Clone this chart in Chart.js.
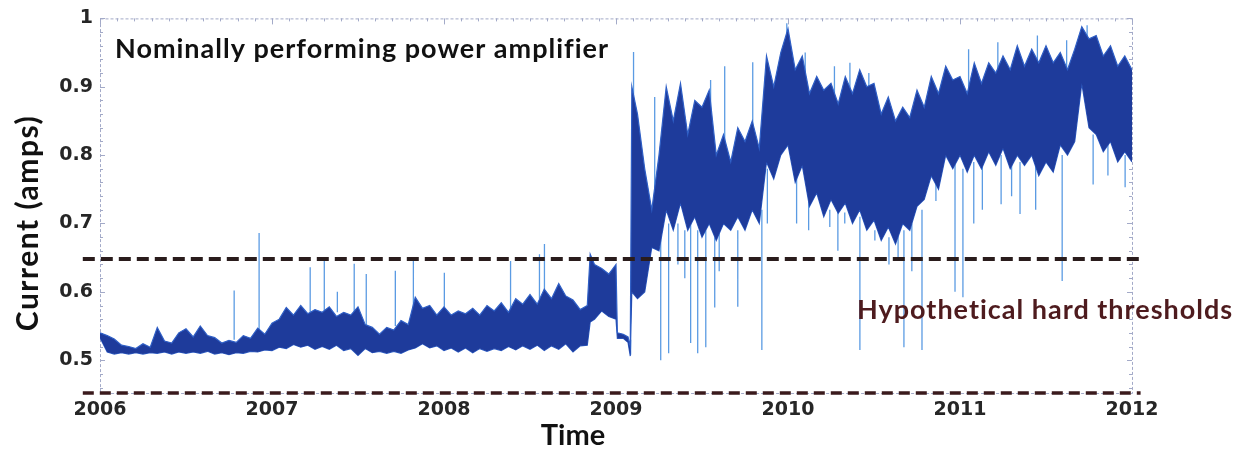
<!DOCTYPE html>
<html>
<head>
<meta charset="utf-8">
<script src="https://cdn.jsdelivr.net/npm/chart.js@4.4.1/dist/chart.umd.min.js"></script>
<style>
    html, body { margin: 0; padding: 0; background: #fff; }
    #wrap { width: 1241px; height: 450px; }
</style>
</head>
<body>
<div id="wrap"><canvas id="main-chart"></canvas></div>
<script>
// Time of each band sample (decimal years)
const binYears = [
    2006.000, 2006.042, 2006.083, 2006.125, 2006.167, 2006.208, 2006.250, 2006.292, 2006.333, 2006.375, 2006.417, 2006.458,
    2006.500, 2006.542, 2006.583, 2006.625, 2006.667, 2006.708, 2006.750, 2006.792, 2006.833, 2006.875, 2006.917, 2006.958,
    2007.000, 2007.042, 2007.083, 2007.125, 2007.167, 2007.208, 2007.250, 2007.292, 2007.333, 2007.375, 2007.417, 2007.458,
    2007.500, 2007.542, 2007.583, 2007.625, 2007.667, 2007.708, 2007.750, 2007.792, 2007.833, 2007.875, 2007.917, 2007.958,
    2008.000, 2008.042, 2008.083, 2008.125, 2008.167, 2008.208, 2008.250, 2008.292, 2008.333, 2008.375, 2008.417, 2008.458,
    2008.500, 2008.542, 2008.583, 2008.625, 2008.667, 2008.708, 2008.750, 2008.792, 2008.833, 2008.850, 2008.875, 2008.917, 2008.958,
    2009.000, 2009.008, 2009.042, 2009.070, 2009.083, 2009.092, 2009.125, 2009.167, 2009.208, 2009.250, 2009.292, 2009.333,
    2009.375, 2009.417, 2009.458, 2009.500, 2009.542, 2009.583, 2009.625, 2009.667, 2009.708, 2009.750, 2009.792, 2009.833,
    2009.875, 2009.917, 2009.958,
    2010.000, 2010.042, 2010.083, 2010.125, 2010.167, 2010.208, 2010.250, 2010.292, 2010.333, 2010.375, 2010.417, 2010.458,
    2010.500, 2010.542, 2010.583, 2010.625, 2010.667, 2010.708, 2010.750, 2010.792, 2010.833, 2010.875, 2010.917, 2010.958,
    2011.000, 2011.042, 2011.083, 2011.125, 2011.167, 2011.208, 2011.250, 2011.292, 2011.333, 2011.375, 2011.417, 2011.458,
    2011.500, 2011.542, 2011.583, 2011.625, 2011.667, 2011.708, 2011.750, 2011.792, 2011.833, 2011.875, 2011.917, 2011.958,
    2012.000
];

// Upper edge of the dense current trace (amps)
const bandHigh = [
    0.540, 0.536, 0.531, 0.522, 0.520, 0.517, 0.524, 0.519, 0.548, 0.528, 0.525, 0.540,
    0.546, 0.534, 0.550, 0.536, 0.533, 0.525, 0.529, 0.526, 0.536, 0.532, 0.547, 0.538,
    0.554, 0.560, 0.577, 0.566, 0.580, 0.568, 0.574, 0.570, 0.578, 0.564, 0.570, 0.566,
    0.578, 0.552, 0.548, 0.538, 0.548, 0.544, 0.558, 0.552, 0.592, 0.576, 0.580, 0.566,
    0.578, 0.566, 0.572, 0.568, 0.576, 0.566, 0.580, 0.572, 0.584, 0.570, 0.590, 0.582,
    0.596, 0.582, 0.604, 0.590, 0.612, 0.594, 0.588, 0.574, 0.580, 0.655, 0.640, 0.634, 0.626,
    0.640, 0.540, 0.538, 0.534, 0.520, 0.900, 0.860, 0.780, 0.720, 0.800, 0.900, 0.850,
    0.905, 0.830, 0.880, 0.870, 0.895, 0.800, 0.830, 0.790, 0.840, 0.820, 0.850, 0.810,
    0.945, 0.900, 0.950,
    0.985, 0.925, 0.945, 0.890, 0.915, 0.895, 0.905, 0.875, 0.915, 0.890, 0.925, 0.900,
    0.905, 0.860, 0.885, 0.850, 0.870, 0.855, 0.895, 0.870, 0.915, 0.890, 0.930, 0.910,
    0.915, 0.890, 0.935, 0.905, 0.935, 0.920, 0.945, 0.925, 0.960, 0.930, 0.955, 0.935,
    0.960, 0.935, 0.950, 0.925, 0.955, 0.988, 0.970, 0.975, 0.945, 0.960, 0.930, 0.945,
    0.925
];

// Lower edge of the dense current trace (amps)
const bandLow = [
    0.533, 0.512, 0.509, 0.511, 0.509, 0.511, 0.509, 0.511, 0.510, 0.512, 0.509, 0.512,
    0.510, 0.512, 0.510, 0.513, 0.509, 0.511, 0.508, 0.511, 0.510, 0.513, 0.512, 0.515,
    0.514, 0.519, 0.517, 0.523, 0.519, 0.522, 0.516, 0.520, 0.516, 0.522, 0.514, 0.517,
    0.507, 0.517, 0.511, 0.513, 0.510, 0.513, 0.510, 0.515, 0.518, 0.524, 0.518, 0.521,
    0.514, 0.518, 0.512, 0.518, 0.511, 0.517, 0.513, 0.517, 0.514, 0.520, 0.515, 0.521,
    0.516, 0.522, 0.514, 0.521, 0.516, 0.524, 0.512, 0.521, 0.522, 0.556, 0.560, 0.572, 0.564,
    0.560, 0.532, 0.532, 0.526, 0.506, 0.600, 0.590, 0.600, 0.665, 0.660, 0.720, 0.690,
    0.730, 0.690, 0.710, 0.680, 0.700, 0.675, 0.700, 0.690, 0.710, 0.690, 0.720, 0.700,
    0.790, 0.765, 0.800,
    0.815, 0.760, 0.785, 0.725, 0.745, 0.710, 0.735, 0.715, 0.730, 0.700, 0.720, 0.690,
    0.705, 0.675, 0.695, 0.670, 0.700, 0.690, 0.725, 0.735, 0.770, 0.750, 0.800, 0.780,
    0.800, 0.775, 0.800, 0.780, 0.805, 0.785, 0.810, 0.780, 0.800, 0.785, 0.800, 0.770,
    0.790, 0.775, 0.815, 0.800, 0.820, 0.905, 0.840, 0.830, 0.805, 0.820, 0.790, 0.805,
    0.790
];

// Isolated transients: time, where they leave the band, where they end
const spikeYears = [
    2006.780, 2006.925, 2007.222, 2007.304, 2007.380, 2007.478, 2007.548, 2007.717, 2007.822, 2008.002,
    2008.387, 2008.555, 2008.584, 2009.102, 2009.225, 2009.632, 2009.795, 2009.993, 2011.739,
    2009.085, 2009.260, 2009.306, 2009.434, 2009.475, 2009.522, 2009.574, 2009.708, 2009.848, 2010.243,
    2010.330, 2010.418, 2010.505, 2010.587, 2010.674, 2010.779, 2010.860, 2010.971, 2011.017, 2011.239,
    2011.349, 2011.594, 2011.774, 2011.960,
    2009.360, 2009.400, 2009.600, 2009.880, 2010.050, 2010.120, 2010.290, 2010.640, 2010.720, 2011.080,
    2011.130, 2011.300, 2011.440, 2011.860,
    2009.550, 2010.100, 2010.270, 2010.360, 2010.470, 2011.050, 2011.220, 2011.450, 2011.620
];
const spikeFrom = [
    0.530, 0.540, 0.570, 0.570, 0.570, 0.570, 0.550, 0.550, 0.560, 0.570,
    0.570, 0.590, 0.590, 0.700, 0.750, 0.800, 0.830, 0.950, 0.970,
    0.530, 0.680, 0.700, 0.700, 0.690, 0.690, 0.680, 0.690, 0.720, 0.720,
    0.716, 0.710, 0.690, 0.680, 0.690, 0.720, 0.760, 0.790, 0.780, 0.800,
    0.790, 0.800, 0.830, 0.800,
    0.700, 0.690, 0.690, 0.780, 0.770, 0.740, 0.720, 0.690, 0.700, 0.790,
    0.790, 0.800, 0.790, 0.820,
    0.850, 0.900, 0.880, 0.880, 0.860, 0.900, 0.920, 0.930, 0.920
];
const spikeTo = [
    0.602, 0.686, 0.636, 0.645, 0.600, 0.641, 0.626, 0.631, 0.650, 0.628,
    0.645, 0.655, 0.670, 0.951, 0.885, 0.930, 0.936, 0.993, 0.990,
    0.508, 0.500, 0.510, 0.525, 0.510, 0.519, 0.577, 0.578, 0.515, 0.695,
    0.700, 0.515, 0.675, 0.640, 0.519, 0.515, 0.733, 0.600, 0.592, 0.728,
    0.714, 0.616, 0.757, 0.753,
    0.640, 0.620, 0.630, 0.700, 0.700, 0.690, 0.660, 0.650, 0.630, 0.700,
    0.720, 0.740, 0.720, 0.770,
    0.910, 0.950, 0.930, 0.935, 0.920, 0.955, 0.965, 0.975, 0.968
];

// Hard thresholds and how far the dashed lines run
const thresholds = [0.648, 0.452];
const thresholdSpan = [2005.9, 2012.05];

// Tick labels
const xTicks = [2006, 2007, 2008, 2009, 2010, 2011, 2012];
const yTicks = [0.5, 0.6, 0.7, 0.8, 0.9, 1];

const bandHighPoints = binYears.map((t, i) => ({ x: t, y: bandHigh[i] }));
const bandLowPoints = binYears.map((t, i) => ({ x: t, y: bandLow[i] }));

const spikePoints = [];
spikeYears.forEach((t, i) => {
    spikePoints.push({ x: t, y: spikeFrom[i] }, { x: t, y: spikeTo[i] }, { x: t, y: null });
});

// Dotted frame with small inward ticks, like the original plot box
const frameTicks = {
    id: "frameTicks",
    beforeDatasetsDraw(chart) {
        const { ctx, chartArea: a, scales } = chart;
        ctx.save();
        ctx.strokeStyle = "#a3aac8";
        ctx.lineWidth = 1;
        ctx.setLineDash([3, 2]);
        ctx.strokeRect(a.left + 0.5, a.top + 0.5, a.right - a.left, a.bottom - a.top);
        ctx.setLineDash([]);

        const tick = (x1, y1, x2, y2) => {
            ctx.beginPath();
            ctx.moveTo(x1, y1);
            ctx.lineTo(x2, y2);
            ctx.stroke();
        };

        for (let k = 23; k <= 50; k++) {
            const y = Math.round(scales.y.getPixelForValue(k / 50)) + 0.5;
            const len = k % 5 === 0 ? 5 : 3;
            tick(a.left, y, a.left + len, y);
            tick(a.right, y, a.right - len, y);
        }
        for (let k = 0; k <= 60; k++) {
            const x = Math.round(scales.x.getPixelForValue(2006 + k / 10)) + 0.5;
            const len = k % 10 === 0 ? 6 : 3;
            tick(x, a.top, x, a.top + len);
        }
        ctx.restore();
    },
};

// Axis titles and the two notes written on the plot
const textNotes = {
    id: "textNotes",
    afterDraw(chart) {
        const { ctx, chartArea: a } = chart;
        ctx.save();
        ctx.textBaseline = "alphabetic";

        ctx.fillStyle = "#111";
        ctx.font = "bold 27px Lato";
        ctx.letterSpacing = "1px";
        ctx.textAlign = "left";
        ctx.fillText("Nominally performing power amplifier", a.left + 15, a.top + 40);

        ctx.fillStyle = "#4e1b1e";
        ctx.fillText("Hypothetical hard thresholds", a.left + 757, a.top + 301);

        ctx.fillStyle = "#111";
        ctx.font = "bold 29px Lato";
        ctx.letterSpacing = "0px";
        ctx.textAlign = "center";
        ctx.fillText("Time", 573, 445);

        ctx.translate(28, 223);
        ctx.rotate(-Math.PI / 2);
        ctx.textBaseline = "middle";
        ctx.font = "bold 30px Lato";
        ctx.letterSpacing = "1.5px";
        ctx.fillText("Current (amps)", 0, 0);
        ctx.restore();
    },
};

const chartCanvas = document.getElementById("main-chart");

const currentChart = new Chart(chartCanvas, {
    type: "line",
    data: {
        datasets: [
            {
                label: "Upper threshold",
                data: thresholdSpan.map((x) => ({ x: x, y: thresholds[0] })),
                borderColor: "#2a1c1c",
                borderWidth: 4,
                borderDash: [12, 6],
                pointRadius: 0,
                clip: false,
                order: 0,
            },
            {
                label: "Lower threshold",
                data: thresholdSpan.map((x) => ({ x: x, y: thresholds[1] })),
                borderColor: "#3a1a1c",
                borderWidth: 3.5,
                borderDash: [11, 6],
                pointRadius: 0,
                clip: false,
                order: 0,
            },
            {
                label: "Current high",
                data: bandHighPoints,
                borderColor: "#2f5fc6",
                borderWidth: 1.2,
                backgroundColor: "#1e3b9b",
                fill: "+1",
                pointRadius: 0,
                tension: 0,
                order: 2,
            },
            {
                label: "Current low",
                data: bandLowPoints,
                borderColor: "#2f5fc6",
                borderWidth: 1.2,
                fill: false,
                pointRadius: 0,
                tension: 0,
                order: 2,
            },
            {
                label: "Transients",
                data: spikePoints,
                borderColor: "#5b9be3",
                borderWidth: 1.3,
                pointRadius: 0,
                spanGaps: false,
                order: 3,
            },
        ],
    },
    options: {
        responsive: true,
        maintainAspectRatio: false,
        animation: false,
        layout: {
            padding: { top: 16, right: 109, bottom: 0, left: 0 },
        },
        plugins: {
            legend: { display: false },
            tooltip: { enabled: false },
        },
        scales: {
            x: {
                type: "linear",
                min: 2006,
                max: 2012,
                afterBuildTicks: (scale) => {
                    scale.ticks = xTicks.map((v) => ({ value: v }));
                },
                afterFit: (scale) => {
                    scale.height = 57;
                },
                ticks: {
                    callback: (v) => String(v),
                    font: { family: "DejaVu Sans", weight: "bold", size: 19 },
                    color: "#262626",
                    padding: 6,
                    maxRotation: 0,
                    autoSkip: false,
                },
                grid: { display: false, drawTicks: false },
                border: { display: false },
            },
            y: {
                min: 0.452,
                max: 1,
                afterBuildTicks: (scale) => {
                    scale.ticks = yTicks.map((v) => ({ value: v }));
                },
                afterFit: (scale) => {
                    scale.width = 100;
                },
                ticks: {
                    callback: (v) => String(v),
                    font: { family: "DejaVu Sans", weight: "bold", size: 19 },
                    color: "#262626",
                    padding: 7,
                },
                grid: { display: false, drawTicks: false },
                border: { display: false },
            },
        },
    },
    plugins: [frameTicks, textNotes],
});
</script>
</body>
</html>
